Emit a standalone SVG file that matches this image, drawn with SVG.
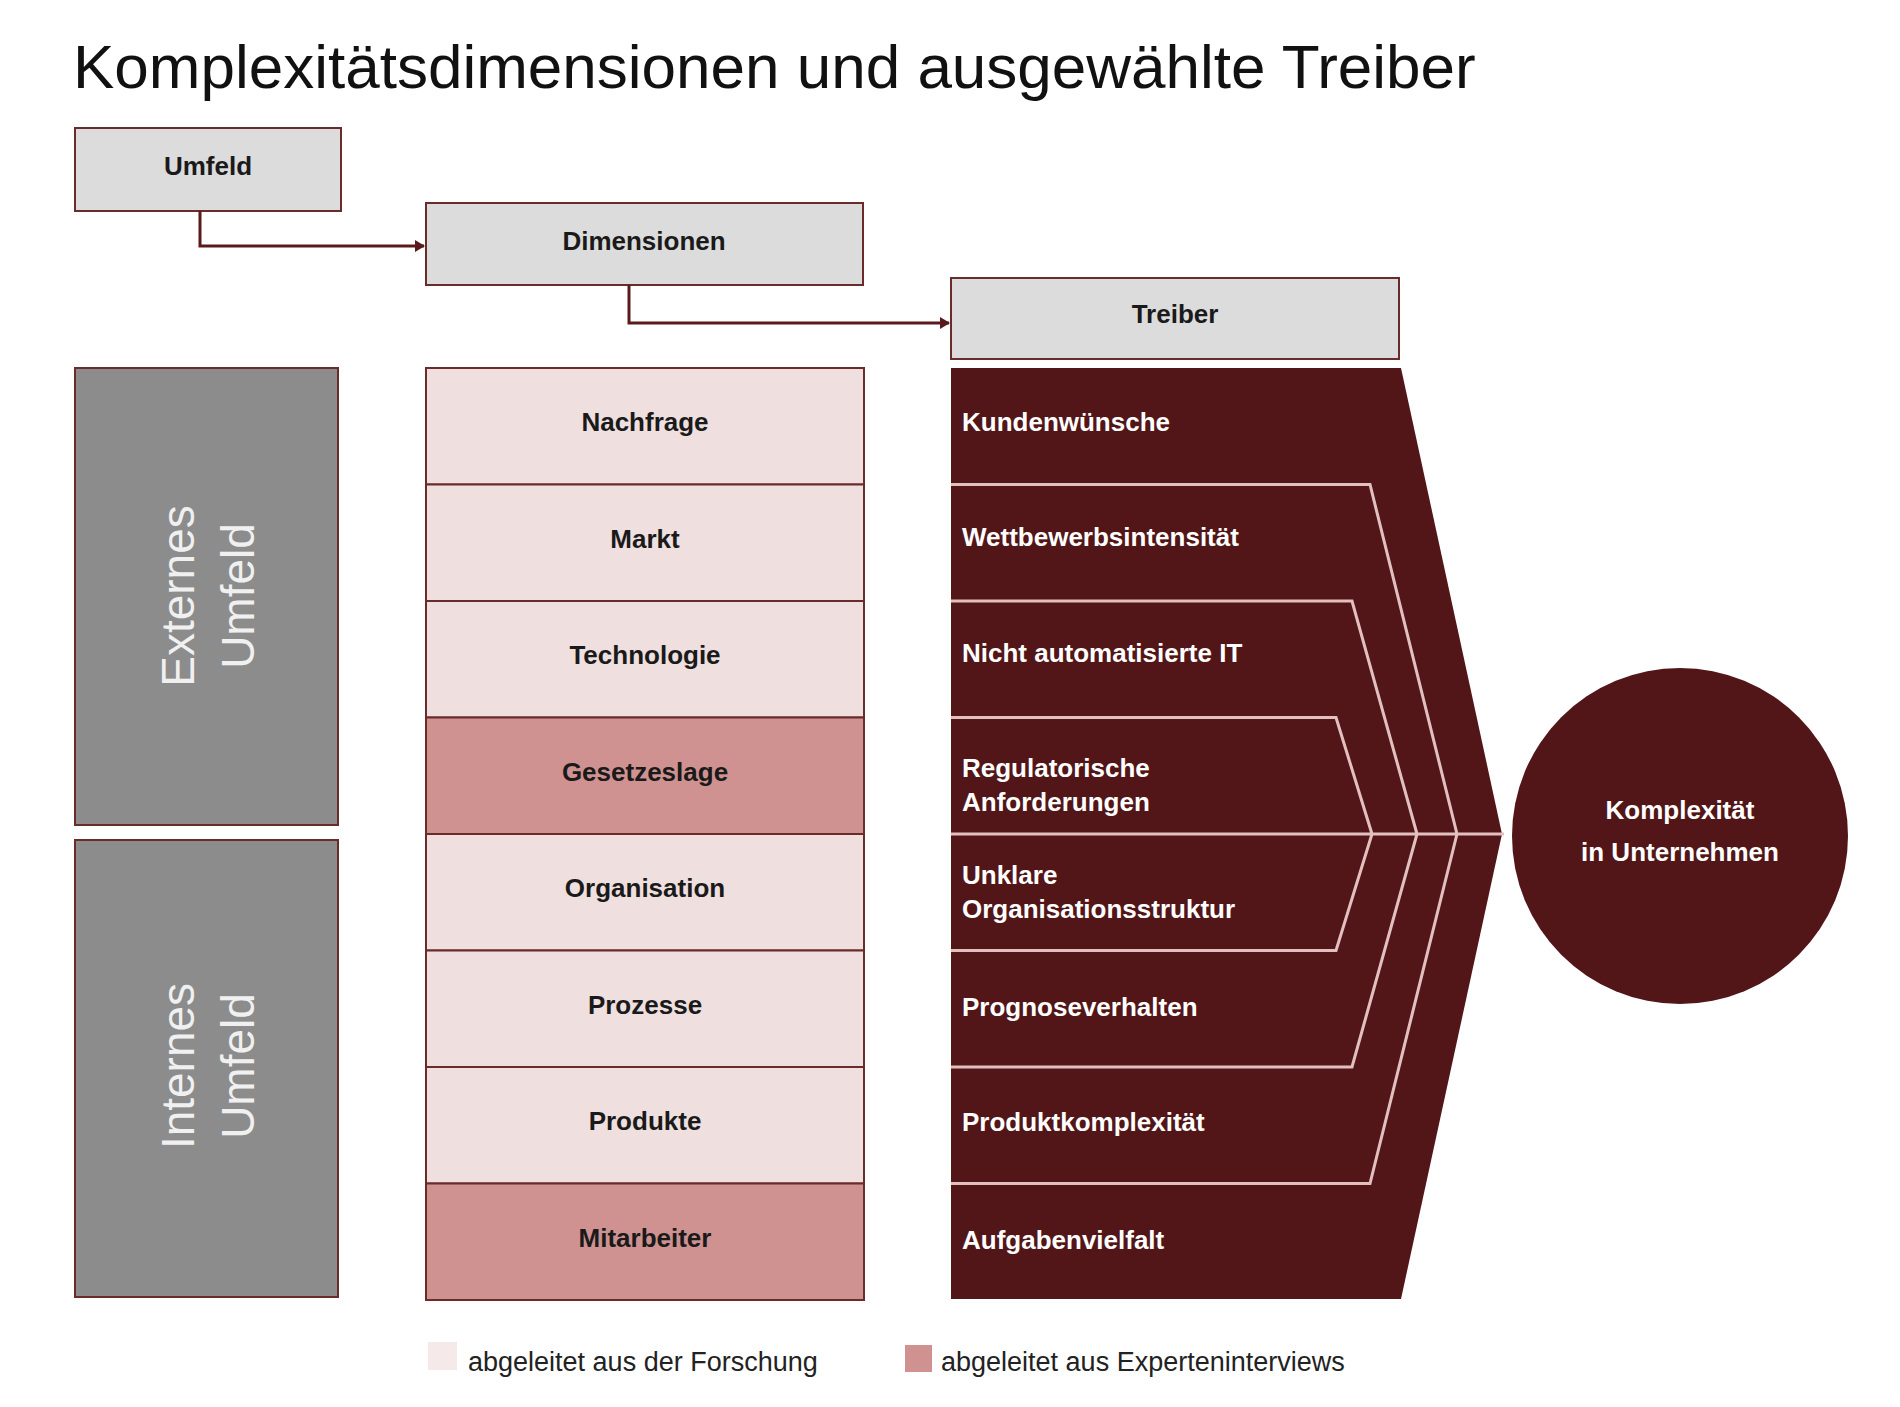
<svg xmlns="http://www.w3.org/2000/svg" width="1900" height="1407" viewBox="0 0 1900 1407">
<style>
text{font-family:"Liberation Sans",Arial,sans-serif}
.hdr{fill:#dcdcdc;stroke:#6a2b2b;stroke-width:2}
.ht{font-size:26px;font-weight:bold;fill:#1a1a1a;text-anchor:middle}
.gray{fill:#8c8c8c;stroke:#6a2b2b;stroke-width:2}
.vt{font-size:46px;fill:#f0f0f0;text-anchor:middle}
.lp{fill:#efdfdf;stroke:#6a2b2b;stroke-width:2}
.dp{fill:#cf9291;stroke:#6a2b2b;stroke-width:2}
.dt{font-size:26px;font-weight:bold;fill:#1a1a1a;text-anchor:middle}
.tt{font-size:26px;font-weight:bold;fill:#ffffff}
.sep{fill:none;stroke:#e3c0c0;stroke-width:3}
.con{fill:none;stroke:#5a1a1c;stroke-width:3}
.lg{font-size:27px;fill:#222}
</style>
<defs><marker id="ah" markerWidth="10" markerHeight="12" refX="9" refY="6" orient="auto" markerUnits="userSpaceOnUse"><path d="M0,0 L10,6 L0,12 Z" fill="#5a1a1c"/></marker></defs>
<text x="73" y="88" font-size="62" fill="#111">Komplexitätsdimensionen und ausgewählte Treiber</text>
<g id="umfeld"><rect class="hdr" x="75" y="128" width="266" height="83"/><text class="ht" x="208" y="175">Umfeld</text></g>
<g id="dimensionen"><rect class="hdr" x="426" y="203" width="437" height="82"/><text class="ht" x="644" y="250">Dimensionen</text></g>
<g id="treiber"><rect class="hdr" x="951" y="278" width="448" height="81"/><text class="ht" x="1175" y="323">Treiber</text></g>
<g id="connectors">
<path class="con" d="M200,211 V246 H424" marker-end="url(#ah)"/>
<path class="con" d="M629,285 V323 H949" marker-end="url(#ah)"/>
</g>
<g id="extern"><rect class="gray" x="75" y="368" width="263" height="457"/><text class="vt" transform="translate(194,596) rotate(-90)">Externes</text><text class="vt" transform="translate(254,596) rotate(-90)">Umfeld</text></g>
<g id="intern"><rect class="gray" x="75" y="840" width="263" height="457"/><text class="vt" transform="translate(194,1066) rotate(-90)">Internes</text><text class="vt" transform="translate(254,1066) rotate(-90)">Umfeld</text></g>
<g id="dims">
<rect class="lp" x="426" y="368" width="438" height="116.5"/><text class="dt" x="645" y="431">Nachfrage</text>
<rect class="lp" x="426" y="484.5" width="438" height="116.5"/><text class="dt" x="645" y="548">Markt</text>
<rect class="lp" x="426" y="601" width="438" height="116.5"/><text class="dt" x="645" y="664">Technologie</text>
<rect class="dp" x="426" y="717.5" width="438" height="116.5"/><text class="dt" x="645" y="781">Gesetzeslage</text>
<rect class="lp" x="426" y="834" width="438" height="116.5"/><text class="dt" x="645" y="897">Organisation</text>
<rect class="lp" x="426" y="950.5" width="438" height="116.5"/><text class="dt" x="645" y="1014">Prozesse</text>
<rect class="lp" x="426" y="1067" width="438" height="116.5"/><text class="dt" x="645" y="1130">Produkte</text>
<rect class="dp" x="426" y="1183.5" width="438" height="116.5"/><text class="dt" x="645" y="1247">Mitarbeiter</text>
</g>
<g id="drivers">
<path d="M951,368 H1401 L1502,834 L1401,1299 H951 Z" fill="#521618"/>
<path class="sep" d="M951,484.5 H1370 L1457,834 M951,601 H1352 L1417,834 M951,717.5 H1336 L1372,834 M951,834 H1504 M951,950.5 H1336 L1372,834 M951,1067 H1352 L1417,834 M951,1183.5 H1370 L1457,834"/>
<text class="tt" x="962" y="431">Kundenwünsche</text>
<text class="tt" x="962" y="546">Wettbewerbsintensität</text>
<text class="tt" x="962" y="662">Nicht automatisierte IT</text>
<text class="tt" x="962" y="777">Regulatorische</text><text class="tt" x="962" y="811">Anforderungen</text>
<text class="tt" x="962" y="884">Unklare</text><text class="tt" x="962" y="918">Organisationsstruktur</text>
<text class="tt" x="962" y="1016">Prognoseverhalten</text>
<text class="tt" x="962" y="1131">Produktkomplexität</text>
<text class="tt" x="962" y="1249">Aufgabenvielfalt</text>
</g>
<g id="komplexitaet"><circle cx="1680" cy="836" r="168" fill="#521618"/><text class="tt" x="1680" y="819" text-anchor="middle">Komplexität</text><text class="tt" x="1680" y="861" text-anchor="middle">in Unternehmen</text></g>
<g id="legend">
<rect x="428" y="1342" width="29" height="28" fill="#f5e9e9"/><text class="lg" x="468" y="1371">abgeleitet aus der Forschung</text>
<rect x="905" y="1345" width="27" height="27" fill="#cf9291"/><text class="lg" x="941" y="1371">abgeleitet aus Experteninterviews</text>
</g>
</svg>
